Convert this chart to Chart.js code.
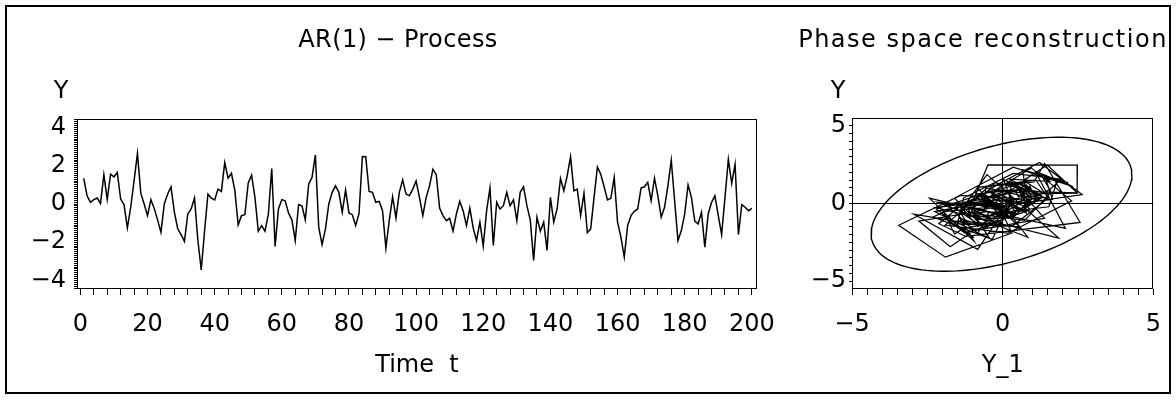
<!DOCTYPE html>
<html>
<head>
<meta charset="utf-8">
<script src="https://cdn.jsdelivr.net/npm/chart.js"></script>
<style>
	html, body { margin: 0; padding: 0; background: #fff; }
	body { width: 1176px; height: 403px; position: relative; overflow: hidden; }
	.frame { position: absolute; left: 5px; top: 5px; width: 1166px; height: 389px; border: 2px solid #000; box-sizing: border-box; }
	#arChart { position: absolute; left: 0; top: 0; }
	#phaseChart { position: absolute; left: 790px; top: 0; }
</style>
</head>
<body>
<div class="frame"></div>
<canvas id="arChart" width="790" height="403"></canvas>
<canvas id="phaseChart" width="386" height="403"></canvas>
<script>
// Y_t for t = 1..200
const seriesY = [
	1.34, 0.43, 0.09, 0.23, 0.31, 0.03, 1.53, 0.24, 1.56, 1.42,
	1.65, 0.26, -0.03, -1.25, -0.17, 1.22, 2.64, 0.57, 0.00, -0.61,
	0.23, -0.23, -0.83, -1.48, 0.00, 0.52, 0.90, -0.43, -1.30, -1.60,
	-1.96, -0.52, -0.26, 0.31, -1.90, -3.45, -1.40, 0.52, 0.31, 0.21,
	0.78, 0.66, 2.17, 1.35, 1.61, 0.73, -1.09, -0.61, -0.56, 1.10,
	1.51, 0.35, -1.42, -1.13, -1.42, -0.52, 1.86, -2.22, -0.26, 0.23,
	0.17, -0.47, -0.83, -1.91, -0.03, -0.09, -0.83, 1.04, 1.39, 2.57,
	-1.22, -2.12, -1.30, 0.00, 0.61, 0.95, 0.61, -0.43, 0.73, -0.47,
	-0.56, -1.13, -0.49, 2.48, 2.47, 0.66, 0.61, 0.09, 0.14, -0.35,
	-2.31, -0.87, 0.38, -0.73, 0.61, 1.27, 0.52, 0.43, 0.78, 1.20,
	0.35, -0.61, 0.35, 0.95, 1.82, 1.53, -0.21, -0.61, -0.87, -0.75,
	-1.42, -0.52, 0.14, -0.35, -1.13, -0.21, -1.25, -1.91, -0.95, -2.20,
	-0.35, 0.83, -2.17, 0.09, -0.26, -0.09, 0.61, -0.09, 0.21, -0.87,
	0.61, 0.90, -0.09, -0.83, -2.95, -0.69, -1.42, -0.95, -2.43, 0.35,
	-0.95, -0.26, 1.34, 0.69, 1.48, 2.47, 0.69, 0.78, -0.61, 0.56,
	-1.50, -1.30, 0.35, 1.94, 1.56, 0.90, 0.21, 0.30, 1.39, -0.95,
	-1.74, -2.78, -1.13, -0.61, -0.38, -0.26, 0.83, 0.90, 1.13, 0.17,
	1.35, 0.43, -0.69, -0.17, 0.95, 2.29, 0.17, -1.91, -1.39, -0.52,
	1.00, 0.35, -0.90, -1.04, -0.43, -2.26, -0.52, 0.09, 0.43, -0.61,
	-1.60, 0.35, 2.34, 1.08, 2.08, -1.60, -0.03, -0.17, -0.35, -0.23
];
const timeTicks = [0, 20, 40, 60, 80, 100, 120, 140, 160, 180, 200];
const yTicks = [-4, -2, 0, 2, 4];
const phaseTicks = [-5, 0, 5];

// lag pairs (Y_{t-1}, Y_t)
const lagX = seriesY.slice(0, -1);
const lagY = seriesY.slice(1);

const ellipseScale = 3.72;
const fontFamily = '"DejaVu Sans"';

Chart.defaults.font.family = fontFamily;
Chart.defaults.font.size = 24;
Chart.defaults.color = '#000';

let fmt = function(v) {
	return v < 0 ? '\u2212' + Math.abs(v) : String(v);
};

// minor + major tick positions
let buildTicks = function(min, max, step) {
	let list = [];
	let n = Math.round((max - min) / step);
	for (let i = 0; i <= n; i++) {
		list.push({ value: +(min + i * step).toFixed(4) });
	}
	return list;
};

let mean = function(a) {
	return a.reduce((s, v) => s + v, 0) / a.length;
};

// concentration ellipse from the lag pairs
let buildEllipse = function() {
	let mx = mean(lagX), my = mean(lagY);
	let sxx = 0, syy = 0, sxy = 0;
	for (let i = 0; i < lagX.length; i++) {
		sxx += (lagX[i] - mx) * (lagX[i] - mx);
		syy += (lagY[i] - my) * (lagY[i] - my);
		sxy += (lagX[i] - mx) * (lagY[i] - my);
	}
	let sx = Math.sqrt(sxx / (lagX.length - 1));
	let sy = Math.sqrt(syy / (lagX.length - 1));
	let r = sxy / Math.sqrt(sxx * syy);
	let pts = [];
	for (let i = 0; i <= 144; i++) {
		let a = 2 * Math.PI * i / 144;
		pts.push({
			x: mx + ellipseScale * sx * Math.cos(a),
			y: my + ellipseScale * sy * (r * Math.cos(a) + Math.sqrt(1 - r * r) * Math.sin(a))
		});
	}
	return pts;
};

// title and the horizontal "Y" label
const panelText = {
	id: 'panelText',
	afterDraw(chart, args, opts) {
		let ctx = chart.ctx;
		ctx.save();
		ctx.fillStyle = '#000';
		ctx.font = '24px ' + fontFamily;
		ctx.textAlign = 'center';
		ctx.textBaseline = 'middle';
		ctx.letterSpacing = opts.spacing || '0px';
		ctx.fillText(opts.title, opts.titleX, 41);
		ctx.letterSpacing = '0px';
		ctx.fillText('Y', opts.yLabelX, 92);
		ctx.restore();
	}
};

// box round the plot area
const boxFrame = {
	id: 'boxFrame',
	afterDraw(chart) {
		let a = chart.chartArea;
		let ctx = chart.ctx;
		ctx.save();
		ctx.strokeStyle = '#000';
		ctx.lineWidth = 1;
		ctx.strokeRect(Math.round(a.left) + 0.5, Math.round(a.top) + 0.5, Math.round(a.right - a.left) - 1, Math.round(a.bottom - a.top) - 1);
		ctx.restore();
	}
};

let arChart = new Chart(document.getElementById('arChart'), {
	type: 'line',
	data: {
		datasets: [{
			data: seriesY.map((v, i) => ({ x: i + 1, y: v })),
			borderColor: '#000',
			borderWidth: 1.5,
			pointRadius: 0,
			tension: 0,
			fill: false
		}]
	},
	options: {
		responsive: false,
		animation: false,
		devicePixelRatio: 1,
		layout: { padding: { left: 0, top: 119, right: 33, bottom: 0 } },
		plugins: {
			legend: { display: false },
			tooltip: { enabled: false },
			panelText: { title: 'AR(1) \u2212 Process', titleX: 398, yLabelX: 61, spacing: '0.4px' }
		},
		scales: {
			x: {
				type: 'linear',
				min: -1,
				max: 201.5,
				afterBuildTicks: s => { s.ticks = buildTicks(0, 200, 4); },
				afterFit: s => { s.height = 114; },
				border: { display: false },
				grid: { drawOnChartArea: false, tickLength: 6, tickColor: '#000' },
				ticks: {
					autoSkip: false,
					maxRotation: 0,
					padding: 15,
					callback: v => timeTicks.includes(v) ? fmt(v) : ''
				},
				title: { display: true, text: 'Time  t', padding: { top: 0, bottom: 23 } }
			},
			y: {
				min: -4.45,
				max: 4.45,
				afterBuildTicks: s => { s.ticks = buildTicks(-4.4, 4.4, 0.1); },
				afterFit: s => { s.width = 77; },
				border: { display: false },
				grid: { drawOnChartArea: false, tickLength: 3, tickColor: '#000' },
				ticks: {
					autoSkip: false,
					padding: 8,
					callback: v => yTicks.includes(v) ? fmt(v) : ''
				}
			}
		}
	},
	plugins: [panelText, boxFrame]
});

let zeroLine = function(ctx) {
	return ctx.tick && ctx.tick.value === 0 ? '#000' : 'rgba(0,0,0,0)';
};

let phaseChart = new Chart(document.getElementById('phaseChart'), {
	type: 'scatter',
	data: {
		datasets: [{
			data: lagX.map((v, i) => ({ x: v, y: lagY[i] })),
			showLine: true,
			borderColor: '#000',
			borderWidth: 1.2,
			pointRadius: 0
		}, {
			data: buildEllipse(),
			showLine: true,
			borderColor: '#000',
			borderWidth: 1.4,
			pointRadius: 0
		}]
	},
	options: {
		responsive: false,
		animation: false,
		devicePixelRatio: 1,
		layout: { padding: { left: 0, top: 118, right: 18, bottom: 0 } },
		plugins: {
			legend: { display: false },
			tooltip: { enabled: false },
			panelText: { title: 'Phase space reconstruction', titleX: 193, yLabelX: 48, spacing: '1.5px' }
		},
		scales: {
			x: {
				min: -5,
				max: 5,
				afterBuildTicks: s => { s.ticks = buildTicks(-5, 5, 0.5); },
				afterFit: s => { s.height = 114; },
				border: { display: false },
				grid: { color: zeroLine, tickLength: 6, tickColor: '#000' },
				ticks: {
					autoSkip: false,
					maxRotation: 0,
					padding: 15,
					callback: v => phaseTicks.includes(v) ? fmt(v) : ''
				},
				title: { display: true, text: 'Y_1', padding: { top: 0, bottom: 23 } }
			},
			y: {
				min: -5.5,
				max: 5.5,
				afterBuildTicks: s => { s.ticks = buildTicks(-5, 5, 0.5); },
				afterFit: s => { s.width = 62; },
				border: { display: false },
				grid: { color: zeroLine, tickLength: 3, tickColor: '#000' },
				ticks: {
					autoSkip: false,
					padding: 3,
					callback: v => phaseTicks.includes(v) ? fmt(v) : ''
				}
			}
		}
	},
	plugins: [panelText, boxFrame]
});
</script>
</body>
</html>
